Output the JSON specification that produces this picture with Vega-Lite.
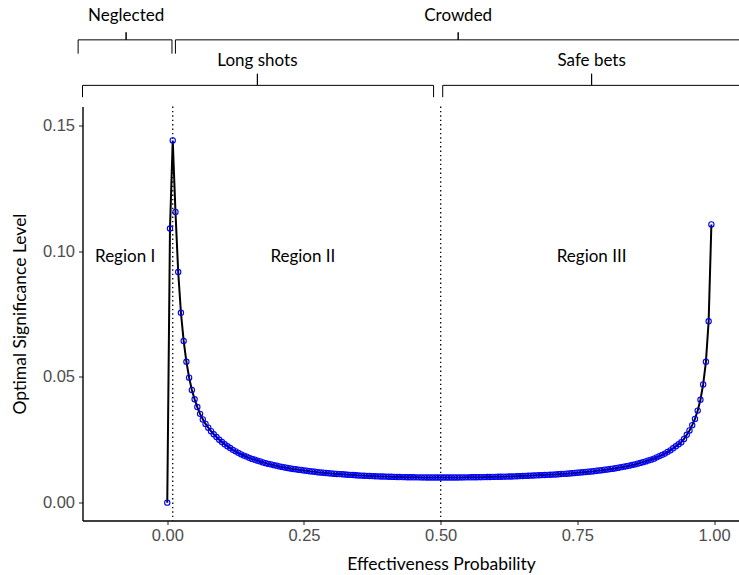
{
  "$schema": "https://vega.github.io/schema/vega-lite/v6.json",
  "width": 656,
  "height": 414,
  "autosize": {"type": "none"},
  "padding": {"left": 82.5, "top": 106.5, "right": 0, "bottom": 54},
  "background": "white",
  "config": {
    "view": {"stroke": null},
    "axis": {
      "grid": false,
      "domainColor": "#000000",
      "domainWidth": 1.4,
      "tickColor": "#333333",
      "tickSize": 4,
      "tickWidth": 1.1,
      "labelFont": "Liberation Sans",
      "labelFontSize": 16.5,
      "labelColor": "#4D4D4D",
      "titleFont": "Lato",
      "titleFontSize": 17.5,
      "titleFontWeight": "normal",
      "titleColor": "#000000"
    }
  },
  "datasets": {
    "curve": [
      {"p": 0.000, "y": 0.0},
      {"p": 0.005, "y": 0.109},
      {"p": 0.010, "y": 0.144},
      {"p": 0.015, "y": 0.1156},
      {"p": 0.020, "y": 0.0917},
      {"p": 0.025, "y": 0.0755},
      {"p": 0.030, "y": 0.0643},
      {"p": 0.035, "y": 0.0560},
      {"p": 0.040, "y": 0.0497},
      {"p": 0.045, "y": 0.0448},
      {"p": 0.050, "y": 0.0411},
      {"p": 0.055, "y": 0.0380},
      {"p": 0.060, "y": 0.0353},
      {"p": 0.065, "y": 0.0331},
      {"p": 0.070, "y": 0.0313},
      {"p": 0.075, "y": 0.0298},
      {"p": 0.080, "y": 0.0284},
      {"p": 0.085, "y": 0.0272},
      {"p": 0.090, "y": 0.0261},
      {"p": 0.095, "y": 0.0250},
      {"p": 0.100, "y": 0.0241},
      {"p": 0.105, "y": 0.0232},
      {"p": 0.110, "y": 0.0224},
      {"p": 0.115, "y": 0.0217},
      {"p": 0.120, "y": 0.0210},
      {"p": 0.125, "y": 0.0204},
      {"p": 0.130, "y": 0.0198},
      {"p": 0.135, "y": 0.0192},
      {"p": 0.140, "y": 0.0187},
      {"p": 0.145, "y": 0.0183},
      {"p": 0.150, "y": 0.0178},
      {"p": 0.155, "y": 0.0174},
      {"p": 0.160, "y": 0.0171},
      {"p": 0.165, "y": 0.0167},
      {"p": 0.170, "y": 0.0164},
      {"p": 0.175, "y": 0.0160},
      {"p": 0.180, "y": 0.0157},
      {"p": 0.185, "y": 0.0154},
      {"p": 0.190, "y": 0.0152},
      {"p": 0.195, "y": 0.0149},
      {"p": 0.200, "y": 0.0147},
      {"p": 0.205, "y": 0.0144},
      {"p": 0.210, "y": 0.0142},
      {"p": 0.215, "y": 0.0140},
      {"p": 0.220, "y": 0.0138},
      {"p": 0.225, "y": 0.0136},
      {"p": 0.230, "y": 0.0134},
      {"p": 0.235, "y": 0.0133},
      {"p": 0.240, "y": 0.0131},
      {"p": 0.245, "y": 0.0130},
      {"p": 0.250, "y": 0.0128},
      {"p": 0.255, "y": 0.0127},
      {"p": 0.260, "y": 0.0125},
      {"p": 0.265, "y": 0.0124},
      {"p": 0.270, "y": 0.0123},
      {"p": 0.275, "y": 0.0121},
      {"p": 0.280, "y": 0.0120},
      {"p": 0.285, "y": 0.0119},
      {"p": 0.290, "y": 0.0118},
      {"p": 0.295, "y": 0.0117},
      {"p": 0.300, "y": 0.0116},
      {"p": 0.305, "y": 0.0115},
      {"p": 0.310, "y": 0.0114},
      {"p": 0.315, "y": 0.01135},
      {"p": 0.320, "y": 0.0113},
      {"p": 0.325, "y": 0.0112},
      {"p": 0.330, "y": 0.0111},
      {"p": 0.335, "y": 0.01105},
      {"p": 0.340, "y": 0.0110},
      {"p": 0.345, "y": 0.0109},
      {"p": 0.350, "y": 0.0108},
      {"p": 0.355, "y": 0.01075},
      {"p": 0.360, "y": 0.0107},
      {"p": 0.365, "y": 0.01065},
      {"p": 0.370, "y": 0.0106},
      {"p": 0.375, "y": 0.01055},
      {"p": 0.380, "y": 0.0105},
      {"p": 0.385, "y": 0.01045},
      {"p": 0.390, "y": 0.0104},
      {"p": 0.395, "y": 0.0104},
      {"p": 0.400, "y": 0.01035},
      {"p": 0.405, "y": 0.0103},
      {"p": 0.410, "y": 0.01027},
      {"p": 0.415, "y": 0.01023},
      {"p": 0.420, "y": 0.0102},
      {"p": 0.425, "y": 0.01018},
      {"p": 0.430, "y": 0.01015},
      {"p": 0.435, "y": 0.01013},
      {"p": 0.440, "y": 0.0101},
      {"p": 0.445, "y": 0.01009},
      {"p": 0.450, "y": 0.01008},
      {"p": 0.455, "y": 0.01006},
      {"p": 0.460, "y": 0.01005},
      {"p": 0.465, "y": 0.01004},
      {"p": 0.470, "y": 0.01003},
      {"p": 0.475, "y": 0.01002},
      {"p": 0.480, "y": 0.01001},
      {"p": 0.485, "y": 0.01001},
      {"p": 0.490, "y": 0.0100},
      {"p": 0.495, "y": 0.0100},
      {"p": 0.500, "y": 0.0100},
      {"p": 0.505, "y": 0.0100},
      {"p": 0.510, "y": 0.0100},
      {"p": 0.515, "y": 0.0100},
      {"p": 0.520, "y": 0.01001},
      {"p": 0.525, "y": 0.01002},
      {"p": 0.530, "y": 0.01002},
      {"p": 0.535, "y": 0.01003},
      {"p": 0.540, "y": 0.01004},
      {"p": 0.545, "y": 0.01005},
      {"p": 0.550, "y": 0.01006},
      {"p": 0.555, "y": 0.01008},
      {"p": 0.560, "y": 0.01009},
      {"p": 0.565, "y": 0.01011},
      {"p": 0.570, "y": 0.01013},
      {"p": 0.575, "y": 0.01014},
      {"p": 0.580, "y": 0.01016},
      {"p": 0.585, "y": 0.01018},
      {"p": 0.590, "y": 0.0102},
      {"p": 0.595, "y": 0.01023},
      {"p": 0.600, "y": 0.01025},
      {"p": 0.605, "y": 0.01028},
      {"p": 0.610, "y": 0.0103},
      {"p": 0.615, "y": 0.01033},
      {"p": 0.620, "y": 0.01036},
      {"p": 0.625, "y": 0.01038},
      {"p": 0.630, "y": 0.0104},
      {"p": 0.635, "y": 0.01045},
      {"p": 0.640, "y": 0.0105},
      {"p": 0.645, "y": 0.01055},
      {"p": 0.650, "y": 0.0106},
      {"p": 0.655, "y": 0.01065},
      {"p": 0.660, "y": 0.0107},
      {"p": 0.665, "y": 0.01075},
      {"p": 0.670, "y": 0.0108},
      {"p": 0.675, "y": 0.01085},
      {"p": 0.680, "y": 0.0109},
      {"p": 0.685, "y": 0.01095},
      {"p": 0.690, "y": 0.0110},
      {"p": 0.695, "y": 0.01105},
      {"p": 0.700, "y": 0.0111},
      {"p": 0.705, "y": 0.01115},
      {"p": 0.710, "y": 0.0112},
      {"p": 0.715, "y": 0.0113},
      {"p": 0.720, "y": 0.0114},
      {"p": 0.725, "y": 0.01145},
      {"p": 0.730, "y": 0.0115},
      {"p": 0.735, "y": 0.0116},
      {"p": 0.740, "y": 0.0117},
      {"p": 0.745, "y": 0.0118},
      {"p": 0.750, "y": 0.0119},
      {"p": 0.755, "y": 0.0120},
      {"p": 0.760, "y": 0.0121},
      {"p": 0.765, "y": 0.0122},
      {"p": 0.770, "y": 0.0123},
      {"p": 0.775, "y": 0.0124},
      {"p": 0.780, "y": 0.0125},
      {"p": 0.785, "y": 0.0127},
      {"p": 0.790, "y": 0.0128},
      {"p": 0.795, "y": 0.0129},
      {"p": 0.800, "y": 0.0131},
      {"p": 0.805, "y": 0.0132},
      {"p": 0.810, "y": 0.0134},
      {"p": 0.815, "y": 0.0135},
      {"p": 0.820, "y": 0.0137},
      {"p": 0.825, "y": 0.0139},
      {"p": 0.830, "y": 0.0141},
      {"p": 0.835, "y": 0.0143},
      {"p": 0.840, "y": 0.0145},
      {"p": 0.845, "y": 0.0147},
      {"p": 0.850, "y": 0.0150},
      {"p": 0.855, "y": 0.0152},
      {"p": 0.860, "y": 0.0155},
      {"p": 0.865, "y": 0.0158},
      {"p": 0.870, "y": 0.0161},
      {"p": 0.875, "y": 0.0164},
      {"p": 0.880, "y": 0.0168},
      {"p": 0.885, "y": 0.0171},
      {"p": 0.890, "y": 0.0175},
      {"p": 0.895, "y": 0.0180},
      {"p": 0.900, "y": 0.0185},
      {"p": 0.905, "y": 0.0190},
      {"p": 0.910, "y": 0.0195},
      {"p": 0.915, "y": 0.0202},
      {"p": 0.920, "y": 0.0208},
      {"p": 0.925, "y": 0.0216},
      {"p": 0.930, "y": 0.0224},
      {"p": 0.935, "y": 0.0232},
      {"p": 0.940, "y": 0.0240},
      {"p": 0.945, "y": 0.0253},
      {"p": 0.950, "y": 0.0270},
      {"p": 0.955, "y": 0.0287},
      {"p": 0.960, "y": 0.0308},
      {"p": 0.965, "y": 0.0333},
      {"p": 0.970, "y": 0.0366},
      {"p": 0.975, "y": 0.0409},
      {"p": 0.980, "y": 0.0470},
      {"p": 0.985, "y": 0.0560},
      {"p": 0.990, "y": 0.0721},
      {"p": 0.995, "y": 0.1106}
    ],
    "brackets": [
      {"b": "Neglected", "i": 0, "x": -0.163, "y": 0.1785},
      {"b": "Neglected", "i": 1, "x": -0.163, "y": 0.1840},
      {"b": "Neglected", "i": 2, "x": -0.0753, "y": 0.1840},
      {"b": "Neglected", "i": 3, "x": -0.0753, "y": 0.1870},
      {"b": "Neglected", "i": 4, "x": -0.0753, "y": 0.1840},
      {"b": "Neglected", "i": 5, "x": 0.0086, "y": 0.1840},
      {"b": "Neglected", "i": 6, "x": 0.0086, "y": 0.1785},
      {"b": "Crowded", "i": 0, "x": 0.0149, "y": 0.1785},
      {"b": "Crowded", "i": 1, "x": 0.0149, "y": 0.1840},
      {"b": "Crowded", "i": 2, "x": 0.532, "y": 0.1840},
      {"b": "Crowded", "i": 3, "x": 0.532, "y": 0.1870},
      {"b": "Crowded", "i": 4, "x": 0.532, "y": 0.1840},
      {"b": "Crowded", "i": 5, "x": 1.10, "y": 0.1840},
      {"b": "Long shots", "i": 0, "x": -0.155, "y": 0.1612},
      {"b": "Long shots", "i": 1, "x": -0.155, "y": 0.1659},
      {"b": "Long shots", "i": 2, "x": 0.1648, "y": 0.1659},
      {"b": "Long shots", "i": 3, "x": 0.1648, "y": 0.1705},
      {"b": "Long shots", "i": 4, "x": 0.1648, "y": 0.1659},
      {"b": "Long shots", "i": 5, "x": 0.487, "y": 0.1659},
      {"b": "Long shots", "i": 6, "x": 0.487, "y": 0.1612},
      {"b": "Safe bets", "i": 0, "x": 0.5037, "y": 0.1612},
      {"b": "Safe bets", "i": 1, "x": 0.5037, "y": 0.1659},
      {"b": "Safe bets", "i": 2, "x": 0.776, "y": 0.1659},
      {"b": "Safe bets", "i": 3, "x": 0.776, "y": 0.1705},
      {"b": "Safe bets", "i": 4, "x": 0.776, "y": 0.1659},
      {"b": "Safe bets", "i": 5, "x": 1.10, "y": 0.1659}
    ],
    "labels": [
      {"t": "Neglected", "x": -0.0753, "y": 0.1933},
      {"t": "Crowded", "x": 0.532, "y": 0.1933},
      {"t": "Long shots", "x": 0.1648, "y": 0.1755},
      {"t": "Safe bets", "x": 0.776, "y": 0.1755},
      {"t": "Region I", "x": -0.077, "y": 0.0976},
      {"t": "Region II", "x": 0.248, "y": 0.0976},
      {"t": "Region III", "x": 0.776, "y": 0.0976}
    ],
    "vlines": [
      {"x": 0.01},
      {"x": 0.5}
    ]
  },
  "layer": [
    {
      "data": {"name": "vlines"},
      "mark": {"type": "rule", "color": "#000000", "strokeWidth": 1.3, "strokeDash": [1.4, 3]},
      "encoding": {
        "x": {
          "field": "x", "type": "quantitative",
          "scale": {"domain": [-0.155, 1.0446], "nice": false, "zero": false},
          "axis": {"values": [0, 0.25, 0.5, 0.75, 1], "format": ".2f", "title": "Effectiveness Probability", "labelPadding": 3, "titlePadding": 11, "titleX": 358.5, "titleAlign": "center"}
        }
      }
    },
    {
      "data": {"name": "curve"},
      "mark": {"type": "line", "color": "#000000", "strokeWidth": 2},
      "encoding": {
        "x": {"field": "p", "type": "quantitative", "scale": {"domain": [-0.155, 1.0446], "nice": false, "zero": false}},
        "y": {
          "field": "y", "type": "quantitative",
          "scale": {"domain": [-0.0071, 0.1575], "nice": false, "zero": false},
          "axis": {"values": [0, 0.05, 0.1, 0.15], "format": ".2f", "title": "Optimal Significance Level", "labelPadding": 4, "titlePadding": 13}
        }
      }
    },
    {
      "data": {"name": "curve"},
      "mark": {"type": "point", "shape": "circle", "filled": false, "color": "#0000FF", "strokeWidth": 1.1, "size": 28, "opacity": 1},
      "encoding": {
        "x": {"field": "p", "type": "quantitative", "scale": {"domain": [-0.155, 1.0446], "nice": false, "zero": false}},
        "y": {"field": "y", "type": "quantitative", "scale": {"domain": [-0.0071, 0.1575], "nice": false, "zero": false}}
      }
    },
    {
      "data": {"name": "brackets"},
      "mark": {"type": "line", "color": "#000000", "strokeWidth": 1, "clip": false},
      "encoding": {
        "x": {"field": "x", "type": "quantitative", "scale": {"domain": [-0.155, 1.0446], "nice": false, "zero": false}},
        "y": {"field": "y", "type": "quantitative", "scale": {"domain": [-0.0071, 0.1575], "nice": false, "zero": false}},
        "detail": {"field": "b", "type": "nominal"},
        "order": {"field": "i", "type": "quantitative"}
      }
    },
    {
      "data": {"name": "labels"},
      "mark": {"type": "text", "font": "Lato", "fontSize": 17, "color": "#000000", "align": "center", "baseline": "middle", "clip": false},
      "encoding": {
        "x": {"field": "x", "type": "quantitative", "scale": {"domain": [-0.155, 1.0446], "nice": false, "zero": false}},
        "y": {"field": "y", "type": "quantitative", "scale": {"domain": [-0.0071, 0.1575], "nice": false, "zero": false}},
        "text": {"field": "t", "type": "nominal"}
      }
    }
  ]
}
